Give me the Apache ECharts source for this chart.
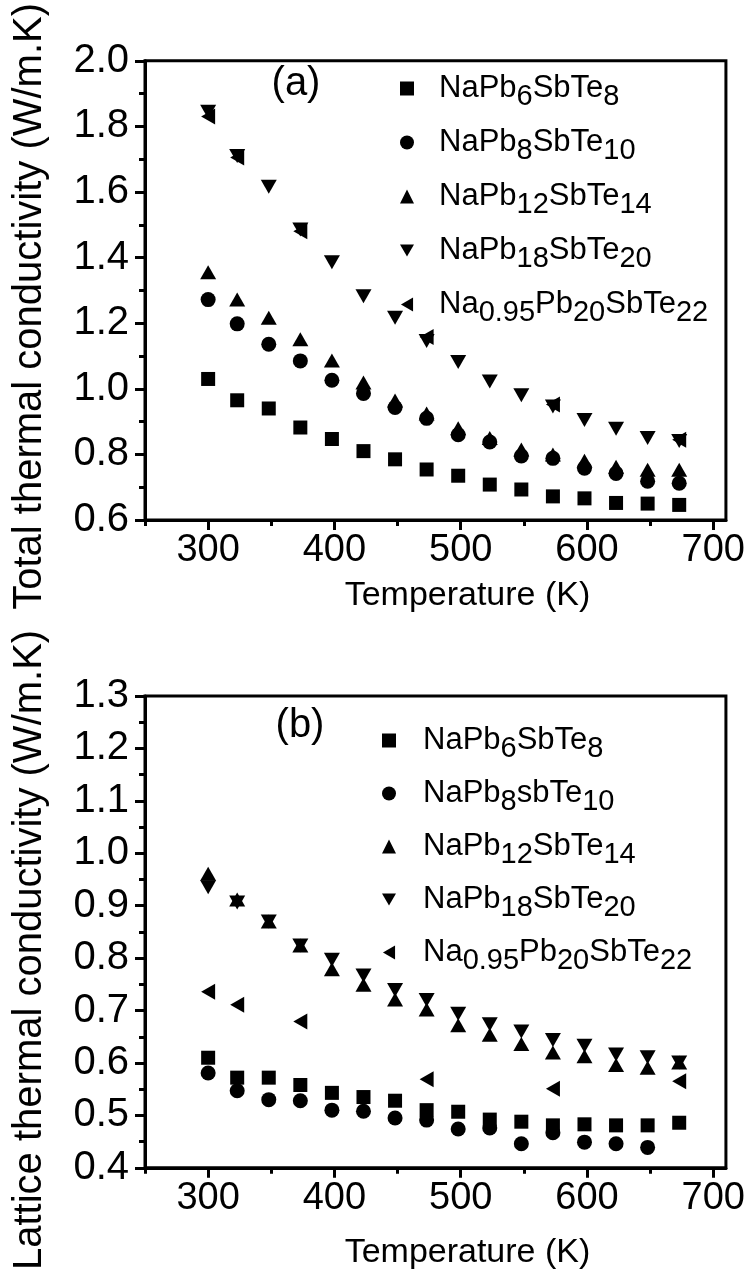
<!DOCTYPE html>
<html><head><meta charset="utf-8">
<script src="https://cdn.jsdelivr.net/npm/echarts@6/dist/echarts.min.js"></script>
<style>html,body{margin:0;padding:0;background:#fff}#c{width:748px;height:1273px}</style>
</head><body><div id="c"></div>
<script>
// ---------- data ----------
const temps = [300,323,348,373,398,423,448,473,498,523,548,573,598,623,648,673];
const naTemps = [300,323,373,473,573,673];
const pb8TempsB = [300,323,348,373,398,423,448,473,498,523,548,573,598,623,648];

const xMajorTicks = [300,400,500,600,700];
const xMinorTicks = [250,350,450,550,650];

const namesA = ['NaPb6SbTe8','NaPb8SbTe10','NaPb12SbTe14','NaPb18SbTe20','Na0.95Pb20SbTe22'];
const namesB = ['NaPb6SbTe8','NaPb8sbTe10','NaPb12SbTe14','NaPb18SbTe20','Na0.95Pb20SbTe22'];

// (a) total thermal conductivity (W/m.K)
const totPb6  = [1.030,0.965,0.940,0.882,0.847,0.810,0.785,0.754,0.735,0.708,0.693,0.672,0.666,0.652,0.650,0.646];
const totPb8  = [1.272,1.198,1.136,1.085,1.026,0.986,0.943,0.910,0.860,0.838,0.795,0.788,0.758,0.742,0.718,0.712];
const totPb12 = [1.355,1.272,1.217,1.151,1.086,1.019,0.964,0.925,0.880,0.850,0.815,0.800,0.781,0.762,0.753,0.753];
const totPb18 = [1.845,1.710,1.616,1.486,1.386,1.282,1.217,1.146,1.082,1.022,0.980,0.946,0.905,0.878,0.850,0.841];
const totNa   = [1.830,1.705,1.480,1.158,0.952,0.845];

// (b) lattice thermal conductivity (W/m.K)
const latPb6  = [0.610,0.572,0.572,0.558,0.543,0.535,0.528,0.510,0.507,0.492,0.488,0.481,0.483,0.481,0.481,0.486];
const latPb8  = [0.581,0.547,0.530,0.528,0.510,0.508,0.495,0.491,0.474,0.476,0.446,0.467,0.449,0.446,0.439];
const latPb12 = [0.961,0.912,0.870,0.824,0.779,0.749,0.721,0.702,0.672,0.654,0.636,0.620,0.613,0.596,0.591,0.601];
const latPb18 = [0.935,0.906,0.870,0.824,0.797,0.767,0.739,0.720,0.694,0.674,0.660,0.644,0.633,0.616,0.611,0.601];
const latNa   = [0.736,0.711,0.679,0.569,0.551,0.565];

// ---------- styles ----------
const FONT = 'Liberation Sans, Arial, Helvetica, sans-serif';
const DOWN = 'path://M0,0L10,0L5,8.66Z';
const LEFT = 'path://M8.66,0L8.66,10L0,5Z';
const symbols = [
  {symbol:'rect', size:14},
  {symbol:'circle', size:15},
  {symbol:'triangle', size:[16,14]},
  {symbol:DOWN, size:[16,14]},
  {symbol:LEFT, size:[14,16]}
];

function pairs(xs, ys){ return xs.map((x,i)=>[x, ys[i]]); }
function richName(s){
  return '{g| }' + s.replace(/([A-Za-z]+)|([0-9.]+)/g, (m,a,b)=> a ? '{m|'+a+'}' : '{s|'+b+'}');
}

const seriesDataA = [pairs(temps,totPb6), pairs(temps,totPb8), pairs(temps,totPb12), pairs(temps,totPb18), pairs(naTemps,totNa)];
const seriesDataB = [pairs(temps,latPb6), pairs(pb8TempsB,latPb8), pairs(temps,latPb12), pairs(temps,latPb18), pairs(naTemps,latNa)];

const series = [];
seriesDataA.forEach((d,i)=>series.push({
  type:'scatter', name:namesA[i], xAxisIndex:0, yAxisIndex:0, data:d,
  symbol:symbols[i].symbol, symbolSize:symbols[i].size, itemStyle:{color:'#000', opacity:1}, silent:true
}));
seriesDataB.forEach((d,i)=>series.push({
  type:'scatter', name:namesB[i], xAxisIndex:2, yAxisIndex:1, data:d,
  symbol:symbols[i].symbol, symbolSize:symbols[i].size, itemStyle:{color:'#000', opacity:1}, silent:true
}));

const lineStyle = {color:'#000', width:3};
function mainX(grid, gap){
  return {
    gridIndex:grid, type:'value', min:250, max:710, interval:50, position:'bottom',
    axisLine:{show:true, onZero:false, lineStyle},
    axisTick:{show:true, inside:false, length:10, lineStyle, customValues:xMajorTicks},
    axisLabel:{show:true, customValues:xMajorTicks, fontSize:38, color:'#000', fontFamily:FONT, margin:12},
    splitLine:{show:false},
    name:'Temperature (K)', nameLocation:'middle', nameGap:gap,
    nameTextStyle:{fontSize:34, color:'#000', fontFamily:FONT, padding:[0,0,0,64]}
  };
}
function minorX(grid){
  return {
    gridIndex:grid, type:'value', min:250, max:710, interval:50, position:'bottom',
    axisLine:{show:false},
    axisTick:{show:true, inside:false, length:6, lineStyle, customValues:xMinorTicks},
    axisLabel:{show:false}, splitLine:{show:false}
  };
}
function yAx(grid, min, max, interval, name, pad){
  return {
    gridIndex:grid, type:'value', min, max, interval, position:'left',
    axisLine:{show:true, onZero:false, lineStyle},
    axisTick:{show:true, inside:false, length:10, lineStyle},
    minorTick:{show:true, splitNumber:2, length:6, lineStyle},
    axisLabel:{fontSize:40, color:'#000', fontFamily:FONT, margin:16, formatter:v=>v.toFixed(1)},
    splitLine:{show:false},
    name, nameLocation:'middle', nameRotate:90, nameGap:95,
    nameTextStyle:{fontSize:40, color:'#000', fontFamily:FONT, padding:pad}
  };
}
function legend(names, left, top, gap, lead){
  return {
    orient:'vertical', left, top, itemWidth:14, itemHeight:14, itemGap:gap, padding:0,
    selectedMode:false,
    data: names.map((n,i)=>({name:n, icon:symbols[i].symbol})),
    formatter: n => richName(n),
    textStyle:{color:'#000', fontFamily:FONT, rich:{
      g:{width:lead, fontSize:29, lineHeight:32},
      m:{fontSize:31, lineHeight:32, fontFamily:FONT, color:'#000'},
      s:{fontSize:29, lineHeight:32, fontFamily:FONT, color:'#000', padding:[16,0,0,0]}
    }}
  };
}

const option = {
  animation:false,
  backgroundColor:'#fff',
  grid:[
    {left:145, right:22, top:53, height:467, show:true, borderColor:'#000', borderWidth:3, backgroundColor:'transparent'},
    {left:145, right:22, top:696, height:472, show:true, borderColor:'#000', borderWidth:3, backgroundColor:'transparent'}
  ],
  xAxis:[mainX(0,59), minorX(0), mainX(1,68), minorX(1)],
  yAxis:[
    yAx(0, 0.6, 2.0, 0.2, 'Total thermal conductivity (W/m.K)', [0,32,0,0]),
    yAx(1, 0.4, 1.3, 0.1, 'Lattice thermal conductivity (W/m.K)', [0,36,0,0])
  ],
  legend:[legend(namesA, 400, 66, 9, 20), legend(namesB, 382, 718, 8, 22)],
  graphic:[
    {type:'text', x:296, y:84, style:{text:'(a)', font:'40px '+FONT, fill:'#000', align:'center', verticalAlign:'middle'}},
    {type:'text', x:300, y:726, style:{text:'(b)', font:'40px '+FONT, fill:'#000', align:'center', verticalAlign:'middle'}}
  ],
  series
};
const chart = echarts.init(document.getElementById('c'), null, {renderer:'canvas'});
chart.setOption(option);
</script>
</body></html>
